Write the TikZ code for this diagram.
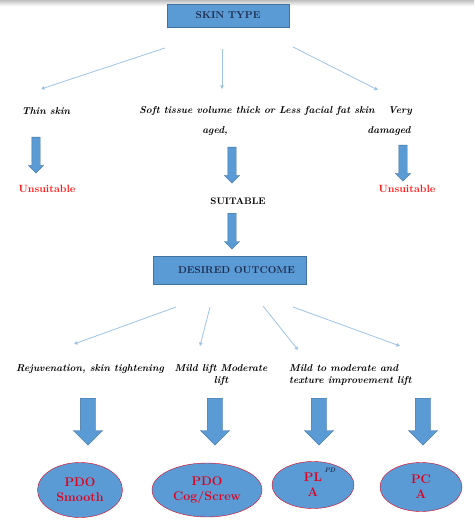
\documentclass[tikz,border=0pt]{standalone}
\usepackage{color}
\usetikzlibrary{arrows.meta,shapes.geometric,shapes.arrows}

\definecolor{boxblue}{HTML}{5B9BD5}
\definecolor{boxedge}{HTML}{41719C}
\definecolor{lineblue}{HTML}{9DC3E6}
\definecolor{navy}{HTML}{1F2D4F}
\definecolor{warnred}{HTML}{FF1A1A}
\definecolor{ovalred}{HTML}{E0001B}

\tikzset{
  headbox/.style={draw=boxedge, fill=boxblue, text=navy, font=\fontsize{10}{12}\selectfont\bfseries},
  thinarrow/.style={lineblue, line width=0.8pt, -{Triangle[length=3.5pt,width=3.5pt]}},
  itext/.style={font=\fontsize{10}{12}\selectfont\bfseries\itshape, inner sep=0pt},
  blockarrow/.style={single arrow, draw=boxedge, fill=boxblue, rotate=-90, anchor=tail,
    inner xsep=0pt, single arrow head extend=3.5pt, inner ysep=4pt},
  bigarrow/.style={blockarrow, inner ysep=7.5pt, single arrow head extend=7pt},
  outcome/.style={ellipse, draw=ovalred, fill=boxblue, text=ovalred, align=center,
    font=\fontsize{12.5}{15}\selectfont\bfseries, inner sep=0pt}
}

\begin{document}
\begin{tikzpicture}[x=1pt, y=-1pt]
  \useasboundingbox (0,0) rectangle (474,529);
  \shade[top color=black!25, bottom color=white, draw=none] (0,0) rectangle (474,6);

  % skin type
  \node[headbox, minimum width=122pt, minimum height=23pt] (skin) at (228,15.5) {SKIN TYPE};
  \coordinate (s1) at (165,48);
  \coordinate (s2) at (222,49);
  \coordinate (s3) at (293,47);
  \coordinate (t1) at (41,89);
  \coordinate (t2) at (222,89);
  \coordinate (t3) at (378,90);
  \draw[thinarrow] (s1) -- (t1);
  \draw[thinarrow] (s2) -- (t2);
  \draw[thinarrow] (s3) -- (t3);

  \node[itext] (thin) at (46,111) {Thin skin};
  \node[itext] (soft) at (257,111) {Soft tissue volume thick or Less facial fat skin};
  \node[itext] (very) at (400,111) {Very};
  \node[itext] (aged) at (215,131) {aged,};
  \node[itext] (damaged) at (389,131) {damaged};

  \node[blockarrow, minimum height=36pt] (a1) at (36,137) {};
  \node[blockarrow, minimum height=36pt] (a2) at (232,147) {};
  \node[blockarrow, minimum height=36pt] (a3) at (403,145) {};

  \node[text=warnred, font=\fontsize{10.5}{12}\selectfont\bfseries] (uns1) at (47,189) {Unsuitable};
  \node[text=warnred, font=\fontsize{10.5}{12}\selectfont\bfseries] (uns2) at (407,189) {Unsuitable};
  \node[font=\fontsize{9.5}{11}\selectfont\bfseries] (suit) at (238,201) {SUITABLE};

  \node[blockarrow, minimum height=36pt] (a4) at (232,213) {};

  % desired outcome
  \node[headbox, minimum width=153pt, minimum height=28pt] (desired) at (229.5,270) {\hspace{14pt}DESIRED OUTCOME};
  \coordinate (d1) at (176,307);
  \coordinate (d2) at (210,307);
  \coordinate (d3) at (263,306);
  \coordinate (d4) at (293,307);
  \coordinate (e1) at (74,344);
  \coordinate (e2) at (200,346);
  \coordinate (e3) at (298,350);
  \coordinate (e4) at (400,346);
  \draw[thinarrow] (d1) -- (e1);
  \draw[thinarrow] (d2) -- (e2);
  \draw[thinarrow] (d3) -- (e3);
  \draw[thinarrow] (d4) -- (e4);

  \node[itext] (rejuv) at (90,369) {Rejuvenation, skin tightening};
  \node[itext, align=center] (mild) at (221,375) {Mild lift Moderate\\lift};
  \node[itext, align=left, anchor=west] (texture) at (289,375) {Mild to moderate and\\texture improvement lift};

  \node[bigarrow, minimum height=47pt] (b1) at (88,398) {};
  \node[bigarrow, minimum height=47pt] (b2) at (215,398) {};
  \node[bigarrow, minimum height=47pt] (b3) at (319,398) {};
  \node[bigarrow, minimum height=47pt] (b4) at (423,398) {};

  \node[outcome, minimum width=85pt, minimum height=55pt] (smooth) at (80,490) {PDO\\Smooth};
  \node[outcome, minimum width=110pt, minimum height=54pt] (cog) at (207,490) {PDO\\Cog/Screw};
  \node[outcome, minimum width=82pt, minimum height=47pt] (pla) at (313,485) {PL\\A};
  \node[outcome, minimum width=82pt, minimum height=49pt] (pca) at (421,487) {PC\\A};
  \node[text=navy, font=\fontsize{6.5}{7}\selectfont\bfseries\itshape, inner sep=0pt] (pd) at (330,470) {PD};
\end{tikzpicture}
\end{document}
